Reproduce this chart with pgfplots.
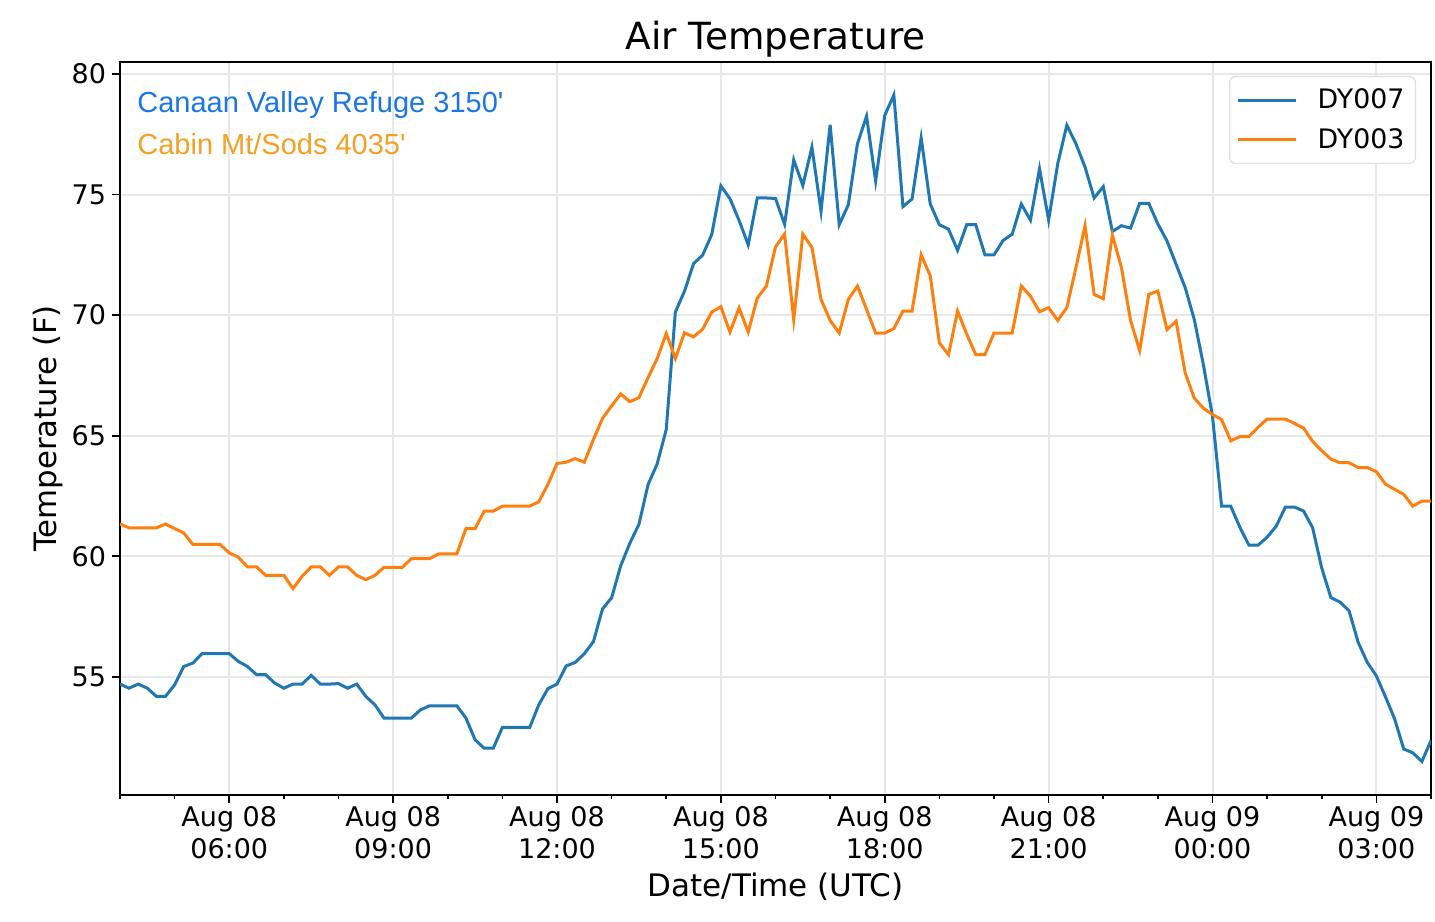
\documentclass[border=0pt]{standalone}
\usepackage{fontspec}
\setmainfont{DejaVu Sans}
\newfontfamily\annfont{Liberation Sans}
\usepackage{pgfplots}
\usepackage{pgfplotstable}
\pgfplotsset{compat=1.18}
\usetikzlibrary{calc}
\definecolor{c1}{HTML}{1F77B4}
\definecolor{c2}{HTML}{FF7F0E}
\definecolor{annblue}{HTML}{1A76E6}
\definecolor{annorange}{HTML}{F4A024}
\pgfplotstableread{
k o b
0 61.34 54.70
1 61.18 54.53
2 61.18 54.70
3 61.18 54.53
4 61.18 54.19
5 61.34 54.19
6 61.15 54.67
7 60.97 55.43
8 60.49 55.57
9 60.49 55.96
10 60.49 55.96
11 60.49 55.96
12 60.14 55.96
13 59.96 55.64
14 59.56 55.43
15 59.56 55.09
16 59.21 55.09
17 59.21 54.74
18 59.21 54.53
19 58.66 54.70
20 59.17 54.70
21 59.56 55.06
22 59.56 54.70
23 59.21 54.70
24 59.56 54.72
25 59.56 54.53
26 59.21 54.70
27 59.03 54.19
28 59.21 53.84
29 59.54 53.29
30 59.54 53.29
31 59.54 53.29
32 59.90 53.29
33 59.90 53.63
34 59.90 53.80
35 60.10 53.80
36 60.10 53.80
37 60.10 53.80
38 61.15 53.29
39 61.15 52.39
40 61.87 52.04
41 61.87 52.04
42 62.08 52.90
43 62.08 52.90
44 62.08 52.90
45 62.08 52.90
46 62.26 53.84
47 62.98 54.51
48 63.85 54.70
49 63.90 55.45
50 64.05 55.60
51 63.90 55.96
52 64.84 56.46
53 65.72 57.82
54 66.24 58.28
55 66.73 59.61
56 66.41 60.54
57 66.58 61.33
58 67.41 62.97
59 68.20 63.83
60 69.24 65.26
61 68.20 70.13
62 69.27 70.99
63 69.10 72.14
64 69.42 72.49
65 70.13 73.35
66 70.35 75.36
67 69.30 74.83
68 70.30 73.93
69 69.30 72.92
70 70.71 74.86
71 71.21 74.86
72 72.83 74.84
73 73.37 73.77
74 69.82 76.44
75 73.36 75.38
76 72.81 76.97
77 70.65 74.31
78 69.78 77.90
79 69.26 73.75
80 70.65 74.58
81 71.21 77.11
82 70.24 78.25
83 69.26 75.56
84 69.26 78.29
85 69.44 79.13
86 70.17 74.50
87 70.17 74.82
88 72.50 77.35
89 71.63 74.61
90 68.85 73.75
91 68.36 73.57
92 70.17 72.69
93 69.22 73.75
94 68.36 73.75
95 68.36 72.50
96 69.26 72.50
97 69.26 73.10
98 69.26 73.36
99 71.21 74.61
100 70.79 73.94
101 70.14 76.07
102 70.31 73.94
103 69.78 76.28
104 70.31 77.88
105 71.97 77.11
106 73.71 76.14
107 70.86 74.86
108 70.68 75.33
109 73.33 73.47
110 71.97 73.71
111 69.78 73.61
112 68.53 74.64
113 70.86 74.64
114 71.00 73.78
115 69.40 73.08
116 69.75 72.11
117 67.60 71.14
118 66.56 69.82
119 66.14 67.94
120 65.88 65.80
121 65.67 62.08
122 64.79 62.08
123 64.96 61.21
124 64.96 60.46
125 65.35 60.46
126 65.69 60.79
127 65.69 61.25
128 65.69 62.04
129 65.51 62.04
130 65.32 61.88
131 64.76 61.18
132 64.38 59.51
133 64.03 58.29
134 63.88 58.10
135 63.88 57.74
136 63.68 56.43
137 63.68 55.60
138 63.51 55.04
139 62.99 54.17
140 62.78 53.26
141 62.57 52.01
142 62.08 51.85
143 62.29 51.49
144 62.29 52.36
}\tempdata
\begin{document}
\begin{tikzpicture}
\begin{axis}[
  width=655.5pt, height=366.5pt, scale only axis,
  xmin=0, xmax=144, ymin=50.1, ymax=80.5,
  xtick={12,30,48,66,84,102,120,138},
  xticklabels={{Aug 08\\06:00},{Aug 08\\09:00},{Aug 08\\12:00},{Aug 08\\15:00},{Aug 08\\18:00},{Aug 08\\21:00},{Aug 09\\00:00},{Aug 09\\03:00}},
  minor xtick={0,6,18,24,36,42,54,60,72,78,90,96,108,114,126,132,144},
  ytick={55,60,65,70,75,80},
  grid=major,
  major grid style={draw=gray!18, line width=1pt},
  minor grid style={draw=none},
  axis line style={line width=0.8pt},
  tick align=outside,
  tick pos=left,
  major tick length=3.8pt,
  minor tick length=2.2pt,
  every tick/.style={black, line width=0.8pt},
  /pgf/number format/assume math mode=true,
  ticklabel style={font=\fontsize{13.5}{16.2}\selectfont},
  xticklabel style={align=center, inner sep=0pt, anchor=north, yshift=-1.5pt},
  yticklabel style={inner sep=0pt, anchor=east, xshift=-3pt},
  title={Air Temperature},
  title style={font=\fontsize{18.7}{22}\selectfont, at={(axis description cs:0.5,1)}, anchor=base},
  xlabel={Date/Time (UTC)},
  xlabel style={font=\fontsize{15.5}{18}\selectfont, at={(axis description cs:0.5,0)}, anchor=base, yshift=-50.5pt},
  ylabel={Temperature (F)},
  ylabel style={font=\fontsize{15.4}{18}\selectfont, at={(axis description cs:0,0.5)}, anchor=base, yshift=31.5pt},
  legend style={at={(1,1)}, anchor=north east, xshift=-7.5pt, yshift=-7pt, draw=gray!25, line width=0.6pt, rounded corners=2.5pt, font=\fontsize{13.4}{15.5}\selectfont, inner xsep=3.5pt, inner ysep=4pt, nodes={inner sep=2pt}, column sep=8pt, row sep=4.5pt},
  legend cell align=left,
  legend image code/.code={\draw[#1, line width=1.5pt] (0pt,0pt) -- (29pt,0pt);},
]
\addplot[c1, line width=1.5pt] table[x=k, y=b] {\tempdata};
\addlegendentry{DY007}
\addplot[c2, line width=1.5pt] table[x=k, y=o] {\tempdata};
\addlegendentry{DY003}
\node[anchor=base west, text=annblue, font=\annfont\fontsize{14.5}{17}\selectfont, inner sep=0pt] at ([xshift=8.5pt,yshift=-25.5pt]rel axis cs:0,1) {Canaan Valley Refuge 3150\textquotesingle};
\node[anchor=base west, text=annorange, font=\annfont\fontsize{14.5}{17}\selectfont, inner sep=0pt] at ([xshift=8.5pt,yshift=-46.5pt]rel axis cs:0,1) {Cabin Mt/Sods 4035\textquotesingle};
\end{axis}
\pgfresetboundingbox
\path[use as bounding box] ($(current axis.south west)+(-60pt,-63pt)$) rectangle ($(current axis.north east)+(2pt,31pt)$);
\end{tikzpicture}
\end{document}
